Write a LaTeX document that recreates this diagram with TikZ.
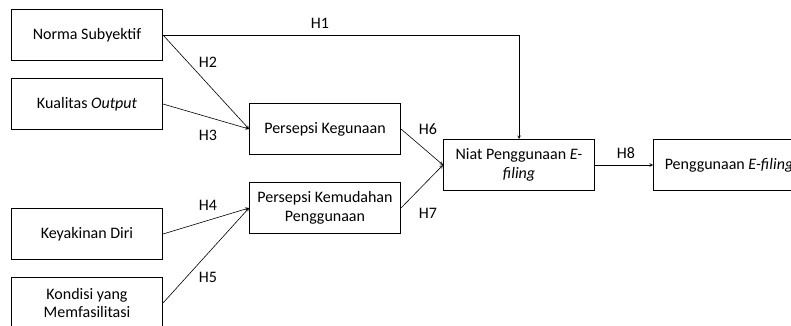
\documentclass[tikz,border=0pt]{standalone}
\usepackage{fontspec}
\setmainfont{Carlito}
\usetikzlibrary{arrows}

\begin{document}
\begin{tikzpicture}[x=1pt,y=-1pt,>=stealth]
\tikzstyle{every node}=[font=\fontsize{16}{18.5}\selectfont]
\tikzstyle{box}=[draw,line width=1pt,minimum width=151pt,minimum height=51pt,inner sep=2pt,align=center]
\tikzstyle{hyp}=[->,line width=0.6pt]
\clip (0,0) rectangle (791,326);
\node (ns) [box] at (87,35) {Norma Subyektif};
\node (ko) [box] at (87,104) {Kualitas \textit{Output}};
\node (kd) [box] at (87,234) {Keyakinan Diri};
\node (kf) [box] at (87,303) {Kondisi yang\\Memfasilitasi};
\node (pk) [box] at (325,129) {Persepsi Kegunaan};
\node (pm) [box] at (325,208) {Persepsi Kemudahan\\Penggunaan};
\node (np) [box] at (519,165) {Niat Penggunaan \textit{E-}\\\textit{filing}};
\node (pe) [box] at (729,165) {Penggunaan \textit{E-filing}};
\draw[hyp] (ns.east) -| (np.north);
\draw[hyp] (ns.east) -- (pk.west);
\draw[hyp] (ko.east) -- (pk.west);
\draw[hyp] (kd.east) -- (pm.west);
\draw[hyp] (kf.east) -- (pm.west);
\draw[hyp] (pk.east) -- (np.west);
\draw[hyp] (pm.east) -- (np.west);
\draw[hyp] (np.east) -- (pe.west);
\node (h1) at (320,23) {H1};
\node (h2) at (208,62) {H2};
\node (h3) at (208,135) {H3};
\node (h4) at (208,205) {H4};
\node (h5) at (208,277) {H5};
\node (h6) at (428,129) {H6};
\node (h7) at (428,213) {H7};
\node (h8) at (626,153) {H8};
\end{tikzpicture}
\end{document}
